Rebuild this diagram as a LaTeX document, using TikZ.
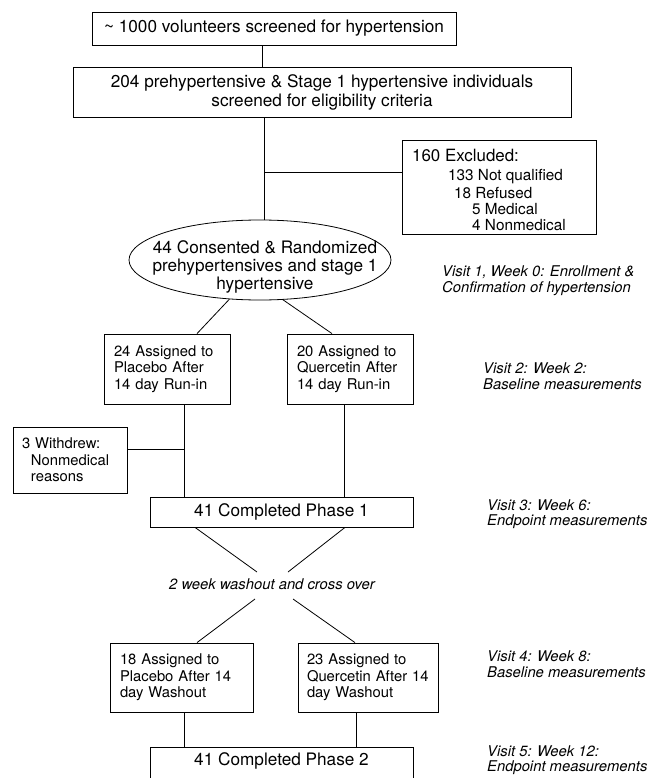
\documentclass[tikz,border=0pt]{standalone}
\usepackage{fontspec}
\setmainfont{TeX Gyre Heros}
\usetikzlibrary{shapes.geometric,calc}
\begin{document}
\begin{tikzpicture}[x=1pt,y=-1pt,
  conn/.style={draw, line width=0.8pt},
  box/.style={draw, line width=0.8pt, inner sep=0pt},
  big/.style={font=\fontsize{17.2}{19}\selectfont},
  small/.style={font=\fontsize{14.8}{16.5}\selectfont},
  visit/.style={font=\fontsize{14.8}{15.5}\selectfont\itshape, align=left, anchor=west, inner sep=0pt},
  lbox/.style={box, small, align=left, inner xsep=10pt, inner ysep=0pt, text width=#1},
  lbl/.style={anchor=west, inner sep=0pt}
]
\useasboundingbox (0,0) rectangle (648,778);
\clip (0,0) rectangle (648,778);

% boxes
\node[box, big, minimum width=364pt, minimum height=33pt] (b1) at (274,28.5)
  {\textasciitilde{} 1000 volunteers screened for hypertension};
\node[box, big, align=center, minimum width=498pt, minimum height=50pt] (b2) at (322,92)
  {204 prehypertensive \& Stage 1 hypertensive individuals\\screened for eligibility criteria};

\node[box, minimum width=194pt, minimum height=94pt] (ex) at (499,187) {};
\node[lbl, font=\fontsize{16.9}{18}\selectfont] (ex1) at (412,155) {160 Excluded:};
\node[lbl, font=\fontsize{15.3}{16}\selectfont] (ex2) at (448,177) {133 Not qualified};
\node[lbl, font=\fontsize{15.3}{16}\selectfont] (ex3) at (454,193) {18 Refused};
\node[lbl, font=\fontsize{15.3}{16}\selectfont] (ex4) at (472,209) {5 Medical};
\node[lbl, font=\fontsize{15.3}{16}\selectfont] (ex5) at (472,225) {4 Nonmedical};

\node[ellipse, draw, line width=0.8pt, minimum width=262pt, minimum height=80pt, inner sep=0pt] (ell) at (260,260) {};
\node[align=center, inner sep=0pt, font=\fontsize{17.2}{18}\selectfont] (ellt) at (265,267)
  {44 Consented \& Randomized\\prehypertensives and stage 1\\hypertensive};

\node[lbox=106pt, minimum height=70pt] (p1) at (167,369) {24 Assigned to\\Placebo After\\14 day Run-in};
\node[lbox=106pt, minimum height=70pt] (q1) at (350,369) {20 Assigned to\\Quercetin After\\14 day Run-in};

\node[lbox=96pt, inner xsep=9pt, minimum height=66pt] (wd) at (70,460)
  {3 Withdrew:\\\hspace*{9pt}Nonmedical\\\hspace*{9pt}reasons};

\node[box, big, minimum width=263pt, minimum height=30pt] (c1) at (281.5,512) {41 Completed Phase 1};

\node[inner sep=0pt, font=\fontsize{14.8}{16}\selectfont\itshape] (wash) at (272,584) {2 week washout and cross over};

\node[lbox=123pt, minimum height=69pt] (p2) at (181.5,677.5) {18 Assigned to\\Placebo After 14\\day Washout};
\node[lbox=122pt, inner xsep=9pt, minimum height=69pt] (q2) at (368,677.5) {23 Assigned to\\Quercetin After 14\\day Washout};

\node[box, big, minimum width=263pt, inner ysep=5pt, anchor=north] (c2) at (281.5,747)
  {41 Completed Phase 2\rule[-22pt]{0pt}{0pt}};

% visit labels
\node[visit] (v1) at (442,280.5) {Visit 1, Week 0: Enrollment \&\\Confirmation of hypertension};
\node[visit] (v2) at (483,376) {Visit 2: Week 2:\\Baseline measurements};
\node[visit] (v3) at (487,514) {Visit 3: Week 6:\\Endpoint measurements};
\node[visit] (v4) at (487,664) {Visit 4: Week 8:\\Baseline measurements};
\node[visit] (v5) at (487,760) {Visit 5: Week 12:\\Endpoint measurements};

% connectors
\coordinate (x1) at (262,0);
\draw[conn] (b1.south -| x1) -- (b2.north -| x1);
\coordinate (x2) at (264,0);
\draw[conn] (b2.south -| x2) -- (ell.north -| x2);
\coordinate (j1) at (264,172);
\draw[conn] (j1) -- (j1 -| ex.west);

\draw[conn] (ell.232) -- ($(p1.north)+(30,0)$);
\draw[conn] (ell.300) -- ($(q1.north)+(-18,0)$);

\coordinate (p1b) at ($(p1.south)+(17,0)$);
\draw[conn] (p1b) -- (p1b |- c1.north);
\coordinate (q1b) at ($(q1.south)+(-6,0)$);
\draw[conn] (q1b) -- (q1b |- c1.north);
\coordinate (wj) at ($(wd.east)+(0,-11)$);
\draw[conn] (wj) -- (wj -| p1b);

\draw[conn] ($(c1.south)+(-86.5,0)$) -- ($(wash.center)+(-15,-12)$);
\draw[conn] ($(c1.south)+(63.5,0)$) -- ($(wash.center)+(16,-12)$);
\draw[conn] ($(wash.center)+(-17,15)$) -- ($(p2.north)+(15.5,0)$);
\draw[conn] ($(wash.center)+(21,15)$) -- ($(q2.north)+(-13,0)$);

\coordinate (p2b) at ($(p2.south)+(2.5,0)$);
\draw[conn] (p2b) -- (p2b |- c2.north);
\coordinate (q2b) at ($(q2.south)+(-12,0)$);
\draw[conn] (q2b) -- (q2b |- c2.north);
\end{tikzpicture}
\end{document}
